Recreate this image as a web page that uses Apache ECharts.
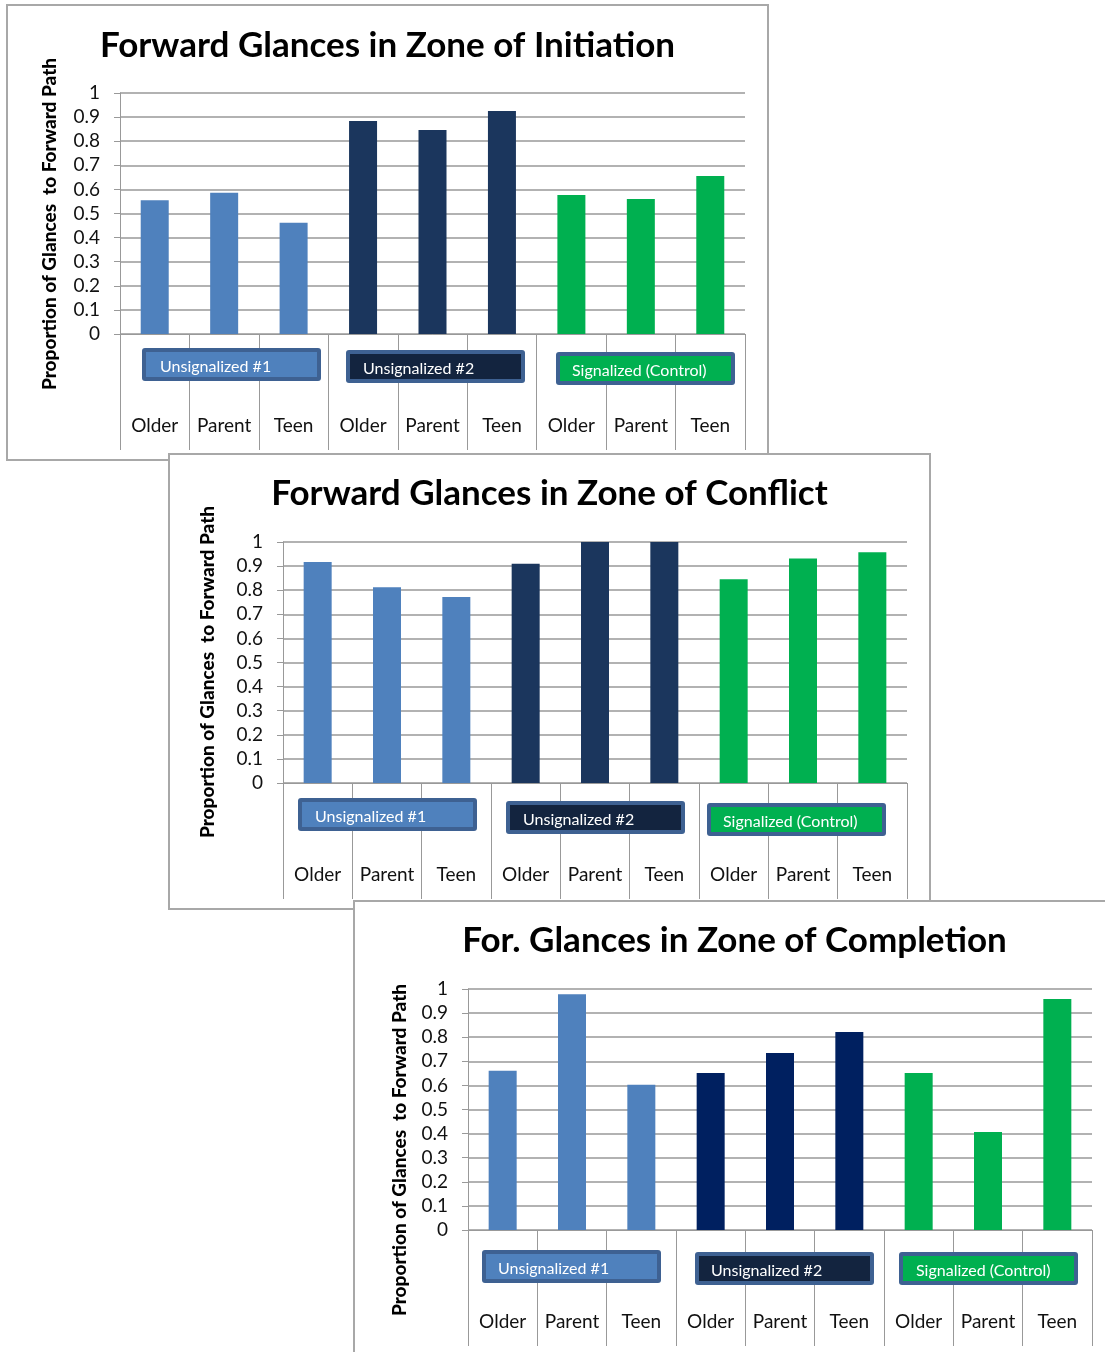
<!DOCTYPE html>
<html>
<head>
<meta charset="utf-8">
<script src="https://cdn.jsdelivr.net/npm/echarts@6/dist/echarts.min.js"></script>
<style>
  html, body { margin:0; padding:0; background:#fff; width:1105px; height:1352px; overflow:hidden; position:relative; }
  .panel { position:absolute; width:763px; height:457px; box-sizing:border-box; border:2px solid #a8a8a8; background:#fff; }
  .chart { position:absolute; left:-2px; top:-2px; width:763px; height:457px; }
</style>
</head>
<body>
<div class="panel" id="p1" style="left:6px;top:4px;z-index:1"><div class="chart" id="c1"></div></div>
<div class="panel" id="p2" style="left:168px;top:453px;z-index:2"><div class="chart" id="c2"></div></div>
<div class="panel" id="p3" style="left:353px;top:900px;z-index:3"><div class="chart" id="c3"></div></div>
<script>
// ---- data ----
const categories = ['Older','Parent','Teen','Older','Parent','Teen','Older','Parent','Teen'];
const groupNames = ['Unsignalized #1','Unsignalized #2','Signalized (Control)'];
const chartTitles = ['Forward Glances in Zone of Initiation','Forward Glances in Zone of Conflict','For. Glances in Zone of Completion'];
const yAxisTitle = 'Proportion of Glances  to Forward Path';
const initiationValues = [0.555, 0.586, 0.462, 0.884, 0.846, 0.925, 0.577, 0.560, 0.656];
const conflictValues   = [0.917, 0.812, 0.772, 0.910, 1.000, 1.000, 0.845, 0.932, 0.957];
const completionValues = [0.661, 0.978, 0.603, 0.651, 0.734, 0.822, 0.651, 0.407, 0.959];

// ---- styles ----
const FONT = 'Lato';
const GRID_COLOR = '#999999';
const barColorsA = ['#4f81bd','#1b365d','#00b050'];
const barColorsB = ['#4f81bd','#002060','#00b050'];
const boxFills = ['#4f81bd','#13243f','#00b050'];
const BOX_FRAME = '#3e6192';

const layouts = [
  { values: initiationValues, colors: barColorsA, gridLeft:114, gridTop:89, gridWidth:625,
    yName:[44,220], titleTop:19,
    boxes:[[136,344,154],[340,346,357],[550,348,566]] },
  { values: conflictValues, colors: barColorsA, gridLeft:115, gridTop:89, gridWidth:624,
    yName:[40,219], titleTop:18,
    boxes:[[130,345,147],[338,348,355],[539,350,555]] },
  { values: completionValues, colors: barColorsB, gridLeft:115, gridTop:89, gridWidth:624,
    yName:[47,250], titleTop:18,
    boxes:[[129,350,145],[342,352,358],[546,352,563]] }
];

function boxGraphic(b, gi) {
  const [x, y, tx] = b;
  return [
    { type:'rect', z:100, shape:{x:x, y:y, width:179, height:33, r:3}, style:{fill:BOX_FRAME} },
    { type:'rect', z:101, shape:{x:x+4, y:y+4, width:171, height:25}, style:{fill:boxFills[gi]} },
    { type:'text', z:102, x:tx, y:y+19, style:{text:groupNames[gi], fill:'#fff', fontSize:16, fontFamily:FONT,
      textAlign:'left', textVerticalAlign:'middle'} }
  ];
}

function makeOption(L, idx) {
  return {
    animation:false,
    title:{ text:chartTitles[idx], left:'center', top:L.titleTop,
      textStyle:{ fontFamily:FONT, fontWeight:'bold', fontSize:35, color:'#000' } },
    grid:{ left:L.gridLeft, top:L.gridTop, width:L.gridWidth, height:241, containLabel:false },
    xAxis:{ type:'category', data:categories,
      axisLine:{ lineStyle:{ color:GRID_COLOR, width:1 } },
      axisTick:{ show:true, interval:0, length:116, lineStyle:{ color:GRID_COLOR, width:1 } },
      axisLabel:{ interval:0, margin:82, fontSize:19, color:'#111', fontFamily:FONT } },
    yAxis:{ type:'value', min:0, max:1, interval:0.1,
      axisLine:{ show:true, lineStyle:{ color:GRID_COLOR, width:1 } },
      axisTick:{ show:true, length:6, lineStyle:{ color:GRID_COLOR, width:1 } },
      splitLine:{ show:true, lineStyle:{ color:GRID_COLOR, width:1.5 } },
      axisLabel:{ margin:20, fontSize:19, color:'#111', fontFamily:FONT } },
    series:[{ type:'bar', barWidth:28,
      data:L.values.map((v,i)=>({ value:v, itemStyle:{ color:L.colors[Math.floor(i/3)] } })) }],
    graphic:[
      { type:'text', x:L.yName[0], y:L.yName[1], rotation:Math.PI/2, z:50,
        style:{ text:yAxisTitle, fontSize:19, fontWeight:900, fontFamily:FONT, fill:'#000',
          textAlign:'center', textVerticalAlign:'middle' } }
    ].concat(boxGraphic(L.boxes[0],0), boxGraphic(L.boxes[1],1), boxGraphic(L.boxes[2],2))
  };
}

['c1','c2','c3'].forEach((id, i) => {
  const chart = echarts.init(document.getElementById(id), null, { renderer:'canvas' });
  chart.setOption(makeOption(layouts[i], i));
});
</script>
</body>
</html>
